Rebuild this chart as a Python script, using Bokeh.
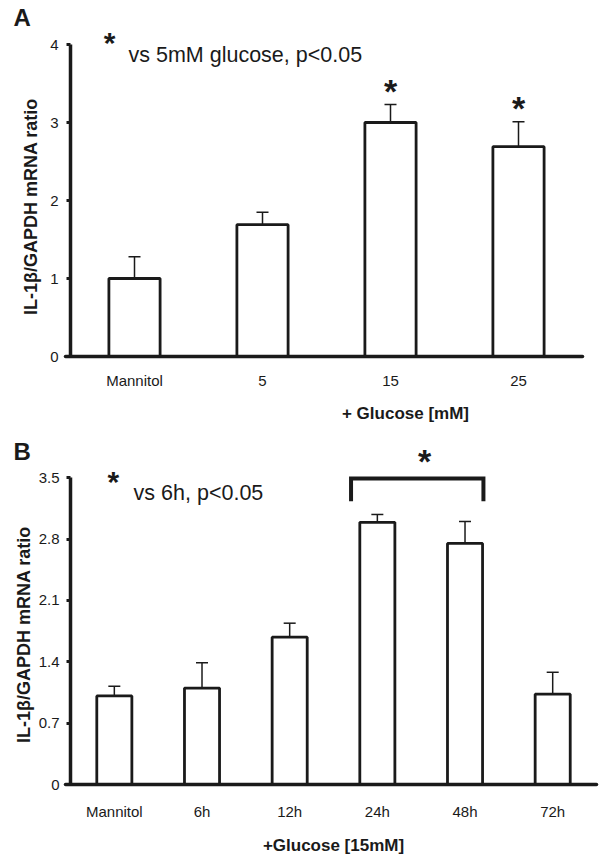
import math
from bokeh.plotting import figure
from bokeh.models import (ColumnDataSource, Range1d, FixedTicker, Whisker, TeeHead, LinearAxis)
from bokeh.layouts import column
from bokeh.embed import file_html
from bokeh.resources import INLINE
from bokeh.core.properties import value

# ---------------- data ----------------
cats_a = ["Mannitol", "5", "15", "25"]
vals_a = [1.0, 1.69, 3.0, 2.69]
errs_a = [0.28, 0.16, 0.23, 0.32]
sig_a = [False, False, True, True]
yticks_a = [0, 1, 2, 3, 4]

cats_b = ["Mannitol", "6h", "12h", "24h", "48h", "72h"]
vals_b = [1.01, 1.10, 1.68, 2.99, 2.75, 1.03]
errs_b = [0.11, 0.29, 0.16, 0.09, 0.25, 0.25]
yticks_b = [0, 0.7, 1.4, 2.1, 2.8, 3.5]
bracket_b = ("24h", "48h")

INK = "#1a1a1a"
FONT = "Liberation Sans"
TICKFONT = "Liberation Sans"


def make_fig(height, xr, yr):
    p = figure(width=604, height=height, output_backend="svg", toolbar_location=None,
               x_range=Range1d(*xr), y_range=Range1d(*yr),
               x_axis_location=None, y_axis_location=None,
               min_border_left=0, min_border_right=0, min_border_top=0, min_border_bottom=0)
    p.xgrid.visible = False
    p.ygrid.visible = False
    p.outline_line_color = None
    p.background_fill_color = "white"
    p.border_fill_color = "white"
    return p


def add_axes(p, cats, yticks, ytop, xstandoff, ystandoff, xstart):
    n = len(cats)
    xa = LinearAxis(fixed_location=0, bounds=(xstart, n))
    xa.ticker = FixedTicker(ticks=[i + 0.5 for i in range(n)])
    xa.major_label_overrides = {i + 0.5: c for i, c in enumerate(cats)}
    xa.axis_line_width = 3.5
    xa.axis_line_color = INK
    xa.axis_line_cap = "round"
    xa.major_tick_line_color = None
    xa.minor_tick_line_color = None
    xa.major_label_standoff = xstandoff
    xa.major_label_text_font = TICKFONT
    xa.major_label_text_font_size = "15px"
    xa.major_label_text_color = INK
    p.add_layout(xa, "below")

    ya = LinearAxis(fixed_location=0, bounds=(0, ytop))
    ya.ticker = FixedTicker(ticks=yticks)
    ya.axis_line_width = 3.5
    ya.axis_line_color = INK
    ya.major_tick_in = 0
    ya.major_tick_out = 4
    ya.major_tick_line_width = 3
    ya.major_tick_line_color = INK
    ya.minor_tick_line_color = None
    ya.major_label_standoff = ystandoff
    ya.major_label_text_font = TICKFONT
    ya.major_label_text_font_size = "15px"
    ya.major_label_text_color = INK
    p.add_layout(ya, "left")


def bars(p, cats, vals, errs):
    src = ColumnDataSource(dict(x=[i + 0.5 for i in range(len(cats))], top=vals,
                                upper=[v + e for v, e in zip(vals, errs)]))
    w = Whisker(source=src, base="x", lower="top", upper="upper", dimension="height",
                line_color=INK, line_width=1.5,
                upper_head=TeeHead(size=12, line_color=INK, line_width=1.5), lower_head=None)
    p.add_layout(w)
    p.vbar(x="x", top="top", width=0.4, source=src, fill_color="white",
           line_color=INK, line_width=2.8)


def txt(p, x, y, s, size, bold=False, align="left", baseline="alphabetic", angle=0.0):
    p.text(x=[x], y=[y], text=[s], text_font=value(FONT),
           text_font_style="bold" if bold else "normal", text_font_size=size,
           text_align=align, text_baseline=baseline, angle=angle, text_color=INK)


# ---------------- Panel A ----------------
# frame spans whole figure; axes drawn at data 0
pA = make_fig(430, (-70 / 128, 534 / 128), (-74 / 78, 356 / 78))
add_axes(pA, cats_a, yticks_a, 4, 9, 8, -0.04)
bars(pA, cats_a, vals_a, errs_a)

sx = [i + 0.5 for i, s in enumerate(sig_a) if s]
sy = [v + e + 0.17 for v, e, s in zip(vals_a, errs_a, sig_a) if s]
pA.text(x=sx, y=sy, text=["*"] * len(sx), text_font=value(FONT), text_font_style="bold",
        text_font_size="34px", text_align="center", text_baseline="alphabetic", text_color=INK)

txt(pA, 0.305, 4.03, "*", "30px", bold=True, align="center")
txt(pA, 0.453, 3.87, "vs 5mM glucose, p<0.05", "21.5px")
txt(pA, -0.445, 4.52, "A", "24px", bold=True, baseline="top")
txt(pA, 2.617, -0.731, "+ Glucose [mM]", "17px", bold=True, align="center", baseline="middle")
txt(pA, -0.3125, 1.923, "IL-1β/GAPDH mRNA ratio", "18px", bold=True, align="center",
    baseline="middle", angle=math.pi / 2)

# ---------------- Panel B ----------------
pxB = 61.37 / 0.7
pB = make_fig(433, (-70 / pxB, 534 / pxB), (-79 / pxB, 354 / pxB))
add_axes(pB, cats_b, yticks_b, 3.5, 12, 7, -0.06)
bars(pB, cats_b, vals_b, errs_b)

ib0 = cats_b.index(bracket_b[0]) + 0.5
ib1 = cats_b.index(bracket_b[1]) + 0.5
i0 = ib0 - 0.3
i1 = ib1 + 0.21
ytop = 3.49
ylow = 3.23
pB.line(x=[i0, i0, i1, i1], y=[ylow, ytop, ytop, ylow], line_color=INK, line_width=4,
        line_join="miter")
pB.text(x=[(ib0 + ib1) / 2 + 0.04], y=[ytop + 0.20], text=["*"], text_font=value(FONT),
        text_font_style="bold", text_font_size="34px", text_align="center",
        text_baseline="alphabetic", text_color=INK)

txt(pB, 0.49, 3.46, "*", "30px", bold=True, align="center")
txt(pB, 0.72, 3.33, "vs 6h, p<0.05", "21.5px")
txt(pB, -0.65, 3.95, "B", "24px", bold=True, baseline="top")
txt(pB, 3.0, -0.696, "+Glucose [15mM]", "17px", bold=True, align="center", baseline="middle")
txt(pB, -0.525, 1.711, "IL-1β/GAPDH mRNA ratio", "18px", bold=True, align="center",
    baseline="middle", angle=math.pi / 2)

layout = column(pA, pB, spacing=0)
open("out.html", "w").write(file_html(layout, INLINE))
